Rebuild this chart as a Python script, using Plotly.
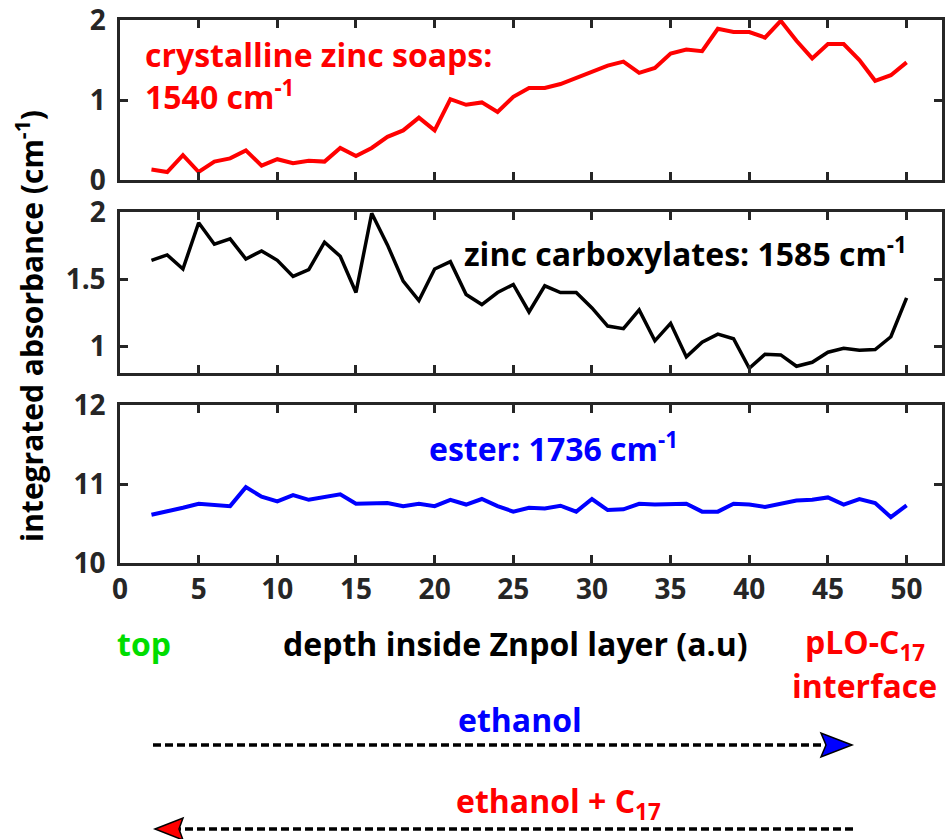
import plotly.graph_objects as go

# ---------------- data ----------------
depth = [2, 3, 4, 5, 6, 7, 8, 9, 10, 11, 12, 13, 14, 15, 16, 17, 18, 19, 20, 21, 22, 23, 24, 25, 26,
         27, 28, 29, 30, 31, 32, 33, 34, 35, 36, 37, 38, 39, 40, 41, 42, 43, 44, 45, 46, 47, 48, 49, 50]

zinc_soaps_1540 = [0.13, 0.10, 0.31, 0.10, 0.23, 0.27, 0.37, 0.18, 0.26, 0.21, 0.24, 0.23, 0.40, 0.30,
                   0.40, 0.54, 0.62, 0.78, 0.62, 1.01, 0.94, 0.97, 0.85, 1.04, 1.15,
                   1.15, 1.20, 1.28, 1.36, 1.43, 1.48, 1.34, 1.40, 1.58, 1.63, 1.61, 1.89, 1.85,
                   1.85, 1.78, 1.99, 1.74, 1.52, 1.70, 1.70, 1.50, 1.24, 1.31, 1.47]

zinc_carbox_1585 = [1.64, 1.68, 1.575, 1.92, 1.76, 1.80, 1.65, 1.71, 1.64, 1.52, 1.57, 1.775, 1.67, 1.40,
                    1.99, 1.755, 1.485, 1.34, 1.575, 1.63, 1.385, 1.31, 1.40, 1.46, 1.255,
                    1.45, 1.40, 1.40, 1.285, 1.15, 1.13, 1.27, 1.04, 1.17, 0.92, 1.03, 1.09, 1.055,
                    0.835, 0.94, 0.935, 0.85, 0.88, 0.955, 0.985, 0.97, 0.975, 1.07, 1.36]

ester_1736 = [10.61, 10.65, 10.70, 10.75, 10.74, 10.72, 10.96, 10.84, 10.78, 10.86, 10.80, 10.83, 10.87,
              10.75, 10.75, 10.76, 10.72, 10.75, 10.72, 10.80, 10.74, 10.81, 10.72, 10.65, 10.70,
              10.69, 10.725, 10.65, 10.81, 10.67, 10.68, 10.75, 10.74, 10.75, 10.75, 10.65, 10.65,
              10.75, 10.74, 10.71, 10.75, 10.79, 10.80, 10.83, 10.74, 10.81, 10.76, 10.58, 10.73]

x_ticks = [0, 5, 10, 15, 20, 25, 30, 35, 40, 45, 50]
y1_ticks = [0, 1, 2]
y2_ticks = [1, 1.5, 2]
y3_ticks = [10, 11, 12]

# ---------------- layout helpers ----------------
W, H = 948, 839
ML, MT = 120, 20
MR = W - 942
MB = H - 563
PW, PH = W - ML - MR, H - MT - MB


def px(x):
    """reference-image pixel x -> paper x"""
    return (x - ML) / PW


def py(y):
    """reference-image pixel y -> paper y"""
    return 1 - (y - MT) / PH


FONT = "Open Sans"
AX = "#262626"
TS = 32   # annotation text size

fig = go.Figure()
fig.add_trace(go.Scatter(x=depth, y=zinc_soaps_1540, mode="lines",
                         line=dict(color="#ff0000", width=4), xaxis="x", yaxis="y"))
fig.add_trace(go.Scatter(x=depth, y=zinc_carbox_1585, mode="lines",
                         line=dict(color="#000000", width=3.5), xaxis="x2", yaxis="y2"))
fig.add_trace(go.Scatter(x=depth, y=ester_1736, mode="lines",
                         line=dict(color="#0000ff", width=4), xaxis="x3", yaxis="y3"))

tickfont = dict(family=FONT, size=28, color=AX, weight="bold")
common = dict(showline=True, mirror="ticks", linecolor=AX, linewidth=2.5,
              ticks="inside", ticklen=8, tickwidth=2.5, tickcolor=AX,
              showgrid=False, zeroline=False, tickfont=tickfont, automargin=False,
              ticklabeloverflow="allow")
ycommon = dict(common, ticklabelstandoff=6)

xr = [0, 52.25]
fig.update_layout(
    width=W, height=H,
    margin=dict(l=ML, r=MR, t=MT, b=MB, autoexpand=False),
    paper_bgcolor="white", plot_bgcolor="white",
    showlegend=False,
    xaxis=dict(domain=[0, 1], range=xr, anchor="y", tickvals=x_ticks, showticklabels=False, **common),
    yaxis=dict(domain=[py(180), py(20)], range=[0, 2], anchor="x", tickvals=y1_ticks, **ycommon),
    xaxis2=dict(domain=[0, 1], range=xr, anchor="y2", tickvals=x_ticks, showticklabels=False, **common),
    yaxis2=dict(domain=[py(373), py(212)], range=[0.8, 2], anchor="x2", tickvals=y2_ticks,
                ticktext=["1", "1.5", "2"], **ycommon),
    xaxis3=dict(domain=[0, 1], range=xr, anchor="y3", tickvals=x_ticks, **common),
    yaxis3=dict(domain=[0, py(405)], range=[10, 12], anchor="x3", tickvals=y3_ticks, **ycommon),
)


def ann(text, x, y, color, xanchor="center", size=TS, angle=0):
    fig.add_annotation(text=text, x=px(x), y=py(y), xref="paper", yref="paper",
                       xanchor=xanchor, yanchor="middle", showarrow=False, textangle=angle,
                       font=dict(family=FONT, size=size, color=color, weight="bold"))


# panel labels
ann("crystalline zinc soaps:", 143, 54, "#ff0000", xanchor="left")
ann("1540 cm<sup>-1</sup>", 143, 95, "#ff0000", xanchor="left")
ann("zinc carboxylates: 1585 cm<sup>-1</sup>", 909, 252, "#000000", xanchor="right")
ann("ester: 1736 cm<sup>-1</sup>", 427, 447, "#0000ff", xanchor="left")

# axis titles
ann("integrated absorbance (cm<sup>-1</sup>)", 30, 326, "#000000", size=30, angle=-90)
ann("depth inside Znpol layer (a.u)", 515, 643, "#000000")
ann("top", 144, 643, "#00dd00")
ann("pLO-C<sub>17</sub>", 865, 644, "#ff0000")
ann("interface", 864, 685, "#ff0000")
ann("ethanol", 520, 719, "#0000ff")
ann("ethanol + C<sub>17</sub>", 558, 803, "#ff0000")

# dashed arrows
fig.add_shape(type="line", xref="paper", yref="paper",
              x0=px(153), y0=py(745), x1=px(826), y1=py(745),
              line=dict(color="#000000", width=3.3, dash="8px,4px"))
fig.add_shape(type="path", xref="paper", yref="paper",
              path=(f"M {px(852)} {py(745)} L {px(821)} {py(733)} L {px(826)} {py(745)} "
                    f"L {px(821)} {py(757)} Z"),
              fillcolor="#0000ff", line=dict(color="#000000", width=1.5))

fig.add_shape(type="line", xref="paper", yref="paper",
              x0=px(853), y0=py(829), x1=px(180), y1=py(829),
              line=dict(color="#000000", width=3.3, dash="8px,4px"))
fig.add_shape(type="path", xref="paper", yref="paper",
              path=(f"M {px(155)} {py(829)} L {px(183)} {py(818)} L {px(179)} {py(829)} "
                    f"L {px(183)} {py(840)} Z"),
              fillcolor="#ff0000", line=dict(color="#000000", width=1.5))

fig.write_html("out.html", config={"displayModeBar": False},
               post_script="document.body.style.margin='0';document.body.style.overflow='hidden';")
